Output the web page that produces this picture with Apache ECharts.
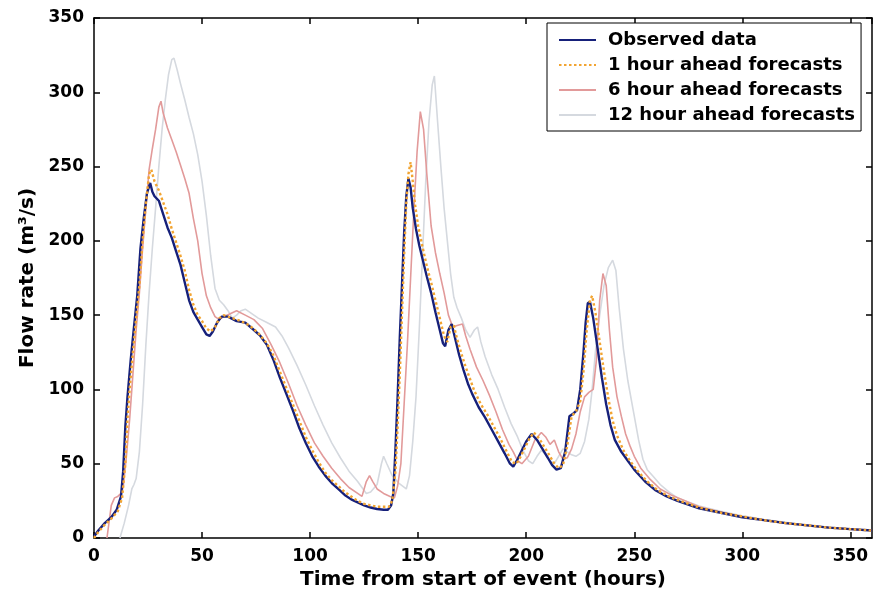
<!DOCTYPE html>
<html>
<head>
<meta charset="utf-8">
<script src="https://cdn.jsdelivr.net/npm/echarts@6/dist/echarts.min.js"></script>
<style>
  html, body { margin: 0; padding: 0; background: #fff; }
  #chart { width: 875px; height: 595px; }
</style>
</head>
<body>
<div id="chart"></div>
<script>
// Flood event hydrograph: observed flow and forecasts at three lead times.
// Each series is stored as (time in hours, flow in m3/s) pairs.

const seriesNames = ['Observed data', '1 hour ahead forecasts', '6 hour ahead forecasts', '12 hour ahead forecasts'];

const obsTime = [0, 2, 5, 8, 10.5, 12.5, 13.5, 14.5, 15.5, 17, 18.5, 20, 21.5, 23, 24.5, 26, 27, 28, 30, 32, 34, 36, 38, 40, 42, 44, 46, 48, 50, 52, 53.5, 55, 57, 59, 62, 66, 70, 74, 77, 80, 83, 86, 89, 92, 95, 98, 101, 104, 107, 110, 113, 116, 119, 122, 125, 128, 131, 134, 136, 137.5, 138.5, 139.5, 140.5, 141.5, 142.5, 143.5, 144.5, 145.5, 146.5, 147.5, 149, 150.5, 152, 154, 156, 158, 160, 161.5, 162.5, 164, 165.5, 167, 169, 171, 173, 175, 178, 181, 184, 187, 190, 192.5, 194, 196, 198, 200, 202.5, 205, 207.5, 210, 212, 214, 216, 218, 220, 222, 223.5, 225, 226.5, 227.5, 228.5, 229.5, 231, 233, 235, 237, 239, 241, 244, 247, 250, 255, 260, 265, 270, 280, 290, 300, 310, 320, 330, 340, 350, 360];
const obsFlow = [1, 5, 10, 14, 19, 28, 45, 75, 95, 120, 142, 163, 195, 215, 232, 239, 233, 230, 227, 218, 209, 202, 193, 184, 172, 160, 152, 147, 142, 137, 136, 139, 145, 149, 149, 146, 145, 140, 136, 130, 120, 108, 97, 86, 74, 64, 55, 48, 42, 37, 33, 29, 26, 24, 22, 20.5, 19.5, 19, 19, 22, 30, 60, 95, 135, 170, 205, 230, 242, 236, 222, 208, 197, 188, 176, 165, 152, 140, 131, 129, 140, 144, 135, 123, 113, 104, 97, 88, 81, 73, 65, 57, 50, 48, 53, 59, 65, 70, 66, 60, 54, 49, 46, 47, 58, 82, 84, 86, 100, 125, 145, 158, 159, 148, 128, 108, 90, 76, 66, 58, 52, 46, 38, 32, 28, 25, 20, 17, 14, 12, 10, 8.5, 7, 6, 5];

const f1Time = [0, 2, 5, 8, 11, 13, 14.5, 15.5, 16.5, 18, 19.5, 21, 22.5, 24, 25.5, 26.5, 28, 30, 32, 34, 36, 38, 40, 42, 44, 46, 48, 50, 52, 54, 56, 58, 60, 64, 68, 72, 76, 80, 83, 86, 89, 92, 95, 98, 101, 104, 107, 110, 113, 116, 119, 122, 125, 128, 131, 134, 136.5, 138, 139.5, 140.5, 141.5, 142.5, 143.5, 144.5, 145.5, 146.5, 147.5, 148.5, 150, 152, 154, 156, 158, 160, 162, 163.5, 165, 166.5, 168, 170, 172, 174, 176, 179, 182, 185, 188, 191, 193.5, 195.5, 197.5, 199.5, 201.5, 203.5, 206, 208.5, 211, 213, 215, 217, 219, 221, 223, 225, 226.5, 228, 229.5, 230.5, 232, 234, 236, 238, 240, 242, 245, 248, 251, 256, 261, 266, 271, 280, 290, 300, 310, 320, 330, 340, 350, 360];
const f1Flow = [0, 4, 9, 13, 18, 27, 50, 80, 100, 125, 148, 170, 200, 225, 245, 248, 240, 234, 226, 218, 208, 199, 190, 180, 167, 157, 150, 146, 141, 139, 142, 148, 150, 148, 146, 143, 138, 131, 123, 112, 101, 90, 79, 68, 59, 51, 44, 39, 35, 31, 28, 25, 23, 22, 21, 21, 21, 25, 45, 75, 110, 150, 190, 225, 245, 253, 240, 225, 210, 196, 183, 172, 160, 148, 136, 132, 142, 143, 134, 124, 115, 107, 99, 90, 83, 75, 67, 58, 51, 50, 55, 61, 67, 71, 67, 61, 55, 50, 47, 49, 62, 82, 85, 92, 112, 140, 160, 163, 152, 132, 112, 94, 79, 69, 59, 52, 46, 38, 32, 28, 25, 20.5, 17, 14.5, 12, 10, 8.5, 7, 6, 5];

const f6Time = [6, 8, 9.5, 11, 12.5, 13.5, 15, 16.5, 18, 19.5, 21, 22.5, 24, 25.5, 27, 28.5, 30, 31, 32, 34, 36, 38, 40, 42, 44, 46, 48, 50, 52, 54, 56, 58, 60, 63, 66, 70, 74, 78, 82, 86, 90, 94, 98, 102, 106, 110, 114, 118, 122, 124, 126, 127.5, 129, 131, 134, 137, 139, 140.5, 142, 143.5, 145, 146.5, 148, 149.5, 151, 152.5, 154, 156, 158, 160, 162, 164, 166, 168, 170.5, 172, 174, 177, 180, 183, 186, 189, 192, 194, 196, 198, 201, 204, 207, 209, 211, 213, 215, 217, 219, 221, 223, 225, 227, 229, 231, 232.5, 234, 235.5, 237, 238.5, 240, 242, 244, 246, 248, 250, 253, 257, 262, 267, 272, 280, 290, 300, 310, 320, 330, 340, 350, 360];
const f6Flow = [0, 22, 27, 28, 30, 34, 55, 80, 110, 140, 165, 195, 222, 248, 262, 275, 290, 294, 286, 276, 268, 260, 251, 242, 232, 215, 200, 178, 163, 155, 149, 147, 149, 151, 153, 150, 147, 141, 130, 118, 104, 89, 76, 64, 55, 47, 40, 34, 30, 28, 38, 42, 38, 33, 30, 28, 27, 35, 50, 90, 130, 175, 220, 260, 287, 275, 245, 210, 192, 178, 165, 150, 142, 143, 144, 136, 127, 115, 106, 96, 85, 73, 63, 58, 52, 50, 55, 66, 71, 68, 63, 66, 58, 53, 54, 60, 70, 85, 95, 98, 100, 120, 160, 178, 170, 140, 115, 95, 82, 70, 62, 55, 47, 40, 33, 29, 26, 21, 17.5, 14.5, 12, 10, 8.5, 7, 6, 5];

const f12Time = [12, 14, 16, 17.5, 18.5, 19.5, 21, 22.5, 24, 25.5, 27, 28.5, 30, 31.5, 33, 34.5, 36, 37, 38.5, 40, 42, 44, 46, 48, 50, 52, 54, 56, 58, 60, 62, 64, 66, 68, 70, 72, 76, 80, 84, 87, 90, 94, 98, 102, 106, 110, 114, 118, 122, 126, 128, 131, 133, 134, 135.5, 138, 141, 144.5, 146, 147.5, 149, 150.5, 152, 153.5, 155, 156.5, 157.5, 159, 160.5, 162, 163.5, 165, 166.5, 168, 170, 172, 174, 176, 177.5, 179, 181, 184, 187, 190, 193, 196, 198.5, 201, 203, 205, 207, 209, 211, 213, 215, 217, 219, 221, 223, 225, 227, 229, 230.5, 232, 234, 236, 238, 240, 241.5, 243, 245, 247, 249.5, 252, 254, 256, 259, 262, 266, 270, 280, 290, 300, 310, 320, 330, 340, 350, 360];
const f12Flow = [0, 10, 22, 33, 36, 40, 58, 90, 130, 165, 195, 222, 250, 275, 295, 312, 322, 323, 315, 306, 295, 283, 272, 258, 240, 217, 190, 168, 160, 157, 153, 148, 150, 153, 154, 152, 148, 145, 142, 136, 128, 116, 103, 89, 76, 64, 54, 45, 38, 30, 31, 36, 50, 55, 50, 42, 37, 33, 42, 65, 95, 140, 190, 240, 280, 305, 311, 280, 250, 222, 200, 178, 162, 155, 148, 140, 135, 140, 142, 132, 122, 110, 100, 88, 77, 68, 59, 52, 50, 55, 59, 56, 52, 50, 55, 60, 58, 56, 55, 57, 65, 80, 100, 125, 150, 170, 182, 187, 180, 155, 127, 106, 86, 66, 53, 46, 41, 36, 31, 27, 21.5, 18, 15, 12.5, 10.5, 8.5, 7, 6, 5];

const xTicks = [0, 50, 100, 150, 200, 250, 300, 350];

const pairs = (t, v) => t.map((x, i) => [x, v[i]]);

const FONT = 'DejaVu Sans';
const chart = echarts.init(document.getElementById('chart'), null, { renderer: 'canvas' });

const frameLine = { show: true, onZero: false, lineStyle: { color: '#000', width: 1.5 } };
const innerTick = { show: true, inside: true, length: 6, lineStyle: { color: '#000', width: 1.5 } };

chart.setOption({
  backgroundColor: '#ffffff',
  animation: false,
  grid: { left: 94, right: 3, top: 18, bottom: 57, containLabel: false },
  legend: {
    data: seriesNames,
    orient: 'vertical',
    left: 547,
    top: 23,
    padding: [8, 6, 7, 11],
    itemWidth: 37,
    itemHeight: 14,
    itemGap: 7,
    backgroundColor: '#fff',
    borderColor: '#000',
    borderWidth: 1,
    // line-only keys: hide the marker drawn on top of each line sample
    itemStyle: { opacity: 0 },
    textStyle: { fontFamily: FONT, fontWeight: 'bold', fontSize: 18, color: '#000', lineHeight: 18, padding: [0, 0, 0, 7] }
  },
  xAxis: [
    {
      type: 'value', min: 0, max: 360, interval: 50, position: 'bottom',
      axisLine: frameLine, axisTick: innerTick, splitLine: { show: false },
      axisLabel: {
        fontFamily: FONT, fontWeight: 'bold', fontSize: 17, color: '#000', margin: 10,
        showMaxLabel: false,
        formatter: v => (xTicks.indexOf(v) >= 0 ? String(v) : '')
      },
      name: 'Time from start of event (hours)', nameLocation: 'middle', nameGap: 31,
      nameTextStyle: { fontFamily: FONT, fontWeight: 'bold', fontSize: 20, color: '#000' }
    },
    {
      type: 'value', min: 0, max: 360, interval: 50, position: 'top',
      axisLine: frameLine, axisTick: innerTick, axisLabel: { show: false }, splitLine: { show: false }
    }
  ],
  yAxis: [
    {
      type: 'value', min: 0, max: 350, interval: 50, position: 'left',
      axisLine: frameLine, axisTick: innerTick, splitLine: { show: false },
      axisLabel: { fontFamily: FONT, fontWeight: 'bold', fontSize: 17, color: '#000', margin: 10 },
      name: 'Flow rate (m³/s)', nameLocation: 'middle', nameGap: 47, nameRotate: 90,
      nameTextStyle: { fontFamily: FONT, fontWeight: 'bold', fontSize: 20, color: '#000' }
    },
    {
      type: 'value', min: 0, max: 350, interval: 50, position: 'right',
      axisLine: frameLine, axisTick: innerTick, axisLabel: { show: false }, splitLine: { show: false }
    }
  ],
  series: [
    {
      name: seriesNames[3], type: 'line', symbol: 'none', data: pairs(f12Time, f12Flow),
      lineStyle: { color: '#d5d9df', width: 1.6 }, itemStyle: { color: '#d5d9df' }
    },
    {
      name: seriesNames[2], type: 'line', symbol: 'none', data: pairs(f6Time, f6Flow),
      lineStyle: { color: '#e29a9a', width: 1.6 }, itemStyle: { color: '#e29a9a' }
    },
    {
      name: seriesNames[0], type: 'line', symbol: 'none', data: pairs(obsTime, obsFlow),
      lineStyle: { color: '#16207a', width: 2.4 }, itemStyle: { color: '#16207a' }
    },
    {
      name: seriesNames[1], type: 'line', symbol: 'none', data: pairs(f1Time, f1Flow),
      lineStyle: { color: '#f2a431', width: 2.4, type: [2.5, 2.5] }, itemStyle: { color: '#f2a431' }
    }
  ]
});
</script>
</body>
</html>
